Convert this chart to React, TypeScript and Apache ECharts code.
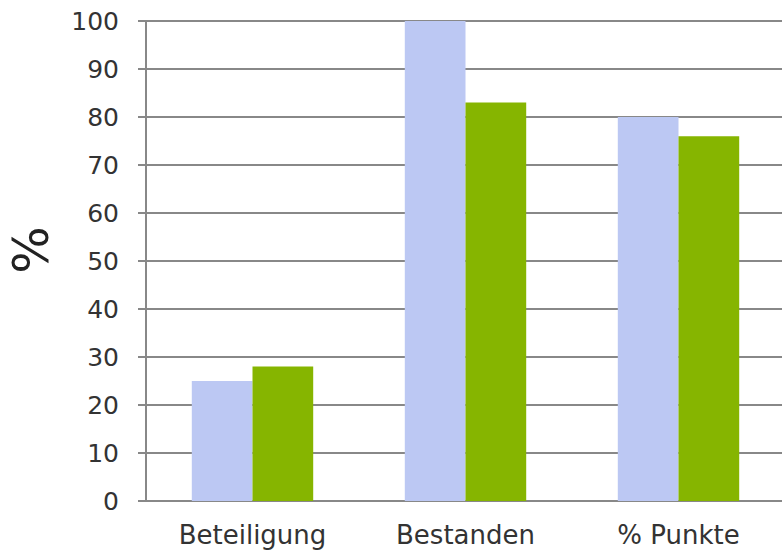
import React, { useEffect, useRef } from "react";
import * as echarts from "echarts";

const categories = ["Beteiligung", "Bestanden", "% Punkte"];
const series1 = [25, 100, 80];
const series2 = [28, 83, 76];
const yAxisTitle = "%";

export default function App() {
  const ref = useRef<HTMLDivElement>(null);
  useEffect(() => {
    if (!ref.current) return;
    const chart = echarts.init(ref.current, null, { renderer: "svg" });
    const font = "DejaVu Sans, Verdana, sans-serif";
    chart.setOption({
      animation: false,
      backgroundColor: "#ffffff",
      grid: {
        left: 146,
        top: 21,
        width: 639,
        bottom: 50,
        containLabel: false,
        outerBoundsMode: "none",
      },
      graphic: [
        {
          type: "text",
          x: 31,
          y: 250,
          rotation: Math.PI / 2,
          style: {
            text: yAxisTitle,
            fontSize: 50,
            fontFamily: font,
            fill: "#222222",
            align: "center",
            verticalAlign: "middle",
          },
        },
      ],
      xAxis: {
        type: "category",
        data: categories,
        axisLine: { lineStyle: { color: "#888888", width: 2 } },
        axisTick: { length: 8, lineStyle: { color: "#888888", width: 2 } },
        axisLabel: { color: "#333333", fontSize: 26, fontFamily: font, margin: 21 },
      },
      yAxis: {
        type: "value",
        min: 0,
        max: 100,
        interval: 10,
        axisLine: { show: true, lineStyle: { color: "#888888", width: 2 } },
        axisTick: { show: true, length: 8, lineStyle: { color: "#888888", width: 2 } },
        axisLabel: { color: "#333333", fontSize: 25, fontFamily: font, margin: 27 },
        splitLine: { lineStyle: { color: "#888888", width: 2 } },
      },
      series: [
        {
          type: "bar",
          data: series1,
          itemStyle: { color: "#BCC8F3" },
          barGap: "0%",
          barCategoryGap: "43%",
        },
        {
          type: "bar",
          data: series2,
          itemStyle: { color: "#86B500" },
          barGap: "0%",
          barCategoryGap: "43%",
        },
      ],
    });
    return () => chart.dispose();
  }, []);
  return (
    <div
      ref={ref}
      style={{ position: "fixed", left: 0, top: 0, width: 782, height: 551 }}
    />
  );
}
